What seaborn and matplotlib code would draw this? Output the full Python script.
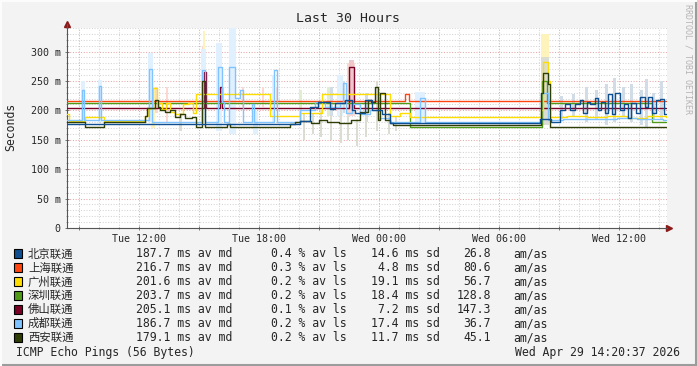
import numpy as np
import pandas as pd
import matplotlib
matplotlib.use("Agg")
import matplotlib.pyplot as plt
import seaborn as sns
from matplotlib.patches import Rectangle
from matplotlib.lines import Line2D

# window starts Tue 08:24, times below are hours into the 30h window
START = 8.4

hosts = ['北京联通', '上海联通', '广州联通', '深圳联通', '佛山联通', '成都联通', '西安联通']
colors = ['#0f4f8f', '#ff4510', '#ffdd00', '#4f9a16', '#7a0025', '#80c4ff', '#2f3d06']
smoke_colors = ['#d2dce6', '#fbd8d0', '#fff3bc', '#e0eed0', '#efc6cc', '#e0f0ff', '#dcddd2']

# median rtt (ms), step data
bj_t = [0, 11.65, 12.15, 12.55, 13.15, 13.4, 13.9, 14.25, 14.4, 14.9, 15.25, 15.75, 16.15, 23.65, 24.2,
        24.65, 24.9, 25.15, 25.4, 25.65, 25.8, 26.0, 26.15, 26.4, 26.55, 26.7, 26.9, 27.05, 27.25, 27.4,
        27.65, 27.85, 28.05, 28.2, 28.45, 28.65, 28.9, 29.05, 29.25, 29.45, 29.65, 29.85, 29.95]
bj_v = [177, 182, 206, 215, 203, 212, 218, 200, 196, 218, 201, 193, 178, 185, 180,
        201, 210, 201, 210, 218, 196, 215, 210, 221, 201, 215, 196, 227, 193, 230,
        201, 210, 187, 213, 196, 223, 206, 223, 196, 218, 220, 193, 193]

sh_t = [0, 16.9, 17.1, 29.95]
sh_v = [216.5, 227, 216.5, 216.5]

gz_t = [0, 0.1, 0.9, 1.85, 3.9, 4.05, 4.3, 4.5, 4.75, 4.95, 5.15, 5.4, 5.8, 6.05, 6.3, 6.45,
        10.15, 11.65, 12.75, 16.15, 16.65, 17.15, 23.7, 23.8, 24.05, 24.15, 25.0, 26.0, 27.0, 28.0, 29.0, 29.95]
gz_v = [193, 182, 189, 182, 190, 203, 238, 213, 203, 213, 198, 193, 210, 213, 196, 228,
        191, 196, 228, 191, 195, 189, 200, 283, 250, 189, 191, 188, 190, 187, 190, 188]

sz_t = [0, 17.15, 23.75, 24.0, 29.25, 29.95]
sz_v = [212, 172, 250, 213, 180, 180]

fs_t = [0, 6.85, 6.95, 7.65, 7.75, 14.1, 14.35, 29.95]
fs_v = [204.5, 266, 204.5, 240, 204.5, 273, 204.5, 204.5]

cd_t = [0, 0.75, 0.85, 1.6, 1.7, 4.1, 4.25, 6.75, 6.9, 7.55, 7.75, 7.85, 8.1, 8.4, 8.65, 8.8,
        9.25, 9.35, 10.35, 10.5, 11.65, 12.4, 12.9, 13.65, 13.8, 13.95, 14.25, 14.65, 15.15, 15.55,
        16.15, 17.65, 17.9, 23.7, 24.05, 24.8, 26.0, 27.5, 28.5, 29.8, 29.95]
cd_v = [183, 235, 183, 242, 183, 271, 181, 269, 181, 274, 215, 181, 274, 221, 235, 181,
        211, 181, 269, 181, 201, 215, 206, 213, 247, 196, 210, 193, 201, 187,
        181, 221, 181, 230, 183, 186, 185, 187, 185, 183, 183]

xa_t = [0, 0.9, 1.85, 3.9, 4.0, 4.4, 4.55, 4.65, 4.9, 5.15, 5.4, 5.65, 5.9, 6.25, 6.45, 6.75, 6.9,
        8.0, 8.15, 11.15, 11.4, 11.65, 12.2, 12.6, 13.0, 13.6, 14.2, 14.65, 15.05, 15.2, 15.4, 15.55,
        15.65, 15.9, 16.15, 16.3, 23.7, 23.8, 24.05, 24.15, 29.95]
xa_v = [180, 171, 180, 190, 204, 218, 206, 201, 198, 201, 189, 193, 187, 189, 172, 250, 172,
        177, 172, 176, 180, 182, 178, 184, 180, 178, 184, 198, 218, 215, 240, 184,
        230, 184, 178, 175, 230, 264, 245, 171, 171]

# smoke: (start, end, low, high)
bj_smoke = [(13.15, 13.3, 190, 240), (13.75, 13.9, 195, 250), (14.9, 15.05, 180, 230),
            (24.65, 24.8, 185, 225), (25.25, 25.4, 190, 228), (25.9, 26.05, 180, 240), (26.4, 26.55, 185, 235),
            (26.9, 27.05, 175, 245), (27.3, 27.45, 180, 255), (27.75, 27.9, 190, 240), (28.15, 28.3, 180, 245),
            (28.65, 28.8, 175, 235), (28.9, 29.05, 170, 253), (29.25, 29.4, 185, 230), (29.65, 29.8, 185, 250)]
sh_smoke = [(4.4, 4.55, 195, 240), (4.95, 5.05, 180, 240), (6.75, 6.9, 200, 309), (7.5, 7.65, 205, 286),
            (8.75, 8.85, 205, 240), (9.75, 9.85, 205, 240), (10.45, 10.55, 205, 240), (14.0, 14.4, 190, 280)]
gz_smoke = [(4.2, 4.4, 170, 240), (6.8, 6.9, 180, 335), (23.7, 24.1, 190, 330)]
sz_smoke = [(11.6, 11.75, 175, 235), (13.0, 13.15, 190, 240)]
fs_smoke = [(14.1, 14.35, 200, 285)]
cd_smoke = [(0.7, 0.9, 180, 250), (1.55, 1.75, 180, 252), (4.05, 4.3, 180, 298), (6.7, 6.95, 180, 305),
            (7.45, 7.75, 165, 315), (8.1, 8.45, 160, 343), (9.3, 9.55, 160, 199), (10.25, 10.4, 180, 260),
            (13.5, 13.8, 190, 260), (17.4, 17.9, 178, 232), (23.7, 24.1, 180, 250)]
xa_smoke = [(5.6, 5.75, 165, 195), (11.8, 11.9, 150, 195), (12.25, 12.35, 160, 195), (12.65, 12.75, 155, 200),
            (13.15, 13.25, 150, 190), (13.65, 13.75, 145, 200), (14.0, 14.1, 150, 190), (14.45, 14.55, 140, 185),
            (14.9, 15.0, 155, 195), (15.45, 15.55, 165, 250), (16.05, 16.15, 160, 195), (16.4, 16.5, 165, 190),
            (23.7, 24.1, 175, 290)]

# legend stats
med = [187.7, 216.7, 201.6, 203.7, 205.1, 186.7, 179.1]
loss = [0.4, 0.3, 0.2, 0.2, 0.1, 0.2, 0.2]
sdev = [14.6, 4.8, 19.1, 18.4, 7.2, 17.4, 11.7]
amas = [26.8, 80.6, 56.7, 128.8, 147.3, 36.7, 45.1]

series = [(bj_t, bj_v), (sh_t, sh_v), (gz_t, gz_v), (sz_t, sz_v), (fs_t, fs_v), (cd_t, cd_v), (xa_t, xa_v)]
smokes = [bj_smoke, sh_smoke, gz_smoke, sz_smoke, fs_smoke, cd_smoke, xa_smoke]

frames = []
for name, (t, v) in zip(hosts, series):
    frames.append(pd.DataFrame({'t': np.array(t) + START, 'ms': v, 'host': name}))
df = pd.concat(frames, ignore_index=True)

sns.set_style("white")
plt.rcParams['font.family'] = ['DejaVu Sans Mono', 'Noto Sans CJK SC']

W, H = 697, 366
fig = plt.figure(figsize=(W / 100, H / 100), dpi=100, facecolor='#f3f3f3')
ax = fig.add_axes([67 / W, 138 / H, 600 / W, 200 / H])
ax.set_facecolor('white')

# smoke
for sm, c in zip(smokes, smoke_colors):
    for s, e, lo, hi in sm:
        ax.fill_between([START + s, START + e], lo, hi, color=c, lw=0, zorder=1.5)

draw_order = ['上海联通', '佛山联通', '深圳联通', '广州联通', '成都联通', '西安联通', '北京联通']
sns.lineplot(data=df, x='t', y='ms', hue='host', hue_order=draw_order,
             palette=dict(zip(hosts, colors)), drawstyle='steps-post', lw=1.0,
             estimator=None, sort=False, legend=False, ax=ax, zorder=3)

ax.set_xlim(START, START + 30)
ax.set_ylim(0, 340)
ax.set_xlabel('')
ax.set_ylabel('')

xt = np.arange(9, 39, 3)
day = {0: 'Tue', 1: 'Wed'}
ax.set_xticks(xt)
ax.set_xticklabels(['%s %02d:00' % (day[int(h // 24)], h % 24) if h % 6 == 0 else '' for h in xt])
ax.set_xticks(np.arange(9, 39, 1), minor=True)
ax.set_yticks(np.arange(0, 301, 50))
ax.set_yticklabels(['0'] + ['%d m' % v for v in range(50, 301, 50)])
ax.set_yticks(np.arange(0, 341, 10), minor=True)

ax.grid(which='minor', color='#d4d4d4', linestyle=(0, (1, 1.6)), lw=0.75)
ax.grid(which='major', color='#e8a8a8', linestyle=(0, (1, 1.6)), lw=0.75)
ax.set_axisbelow(True)

for side in ['top', 'right']:
    ax.spines[side].set_visible(False)
for side in ['left', 'bottom']:
    ax.spines[side].set_color('#555555')
    ax.spines[side].set_linewidth(0.8)
ax.tick_params(which='major', direction='inout', length=3, width=0.7, color='#777777',
               labelsize=7.2, pad=3)
ax.tick_params(which='minor', direction='inout', length=2, width=0.6, color='#999999')
ax.tick_params(axis='x', which='both', bottom=True)
ax.tick_params(axis='y', which='both', left=True)

# arrows
ax.plot([0], [1.022], marker='^', ms=4, color='#8b1a1a', transform=ax.transAxes, clip_on=False)
ax.plot([1.004], [0], marker='>', ms=4, color='#8b1a1a', transform=ax.transAxes, clip_on=False)
ax.add_line(Line2D([0, 0], [1, 1.02], transform=ax.transAxes, color='#555555', lw=0.8, clip_on=False))

def fx(x):
    return x / W

def fy(y):
    return 1 - y / H

fig.text(0.5, fy(19), 'Last 30 Hours', ha='center', va='center', fontsize=9.5)
fig.text(fx(11), fy(127), 'Seconds', rotation=90, ha='center', va='center', fontsize=8.3)
fig.text(fx(688), fy(4), 'RRDTOOL / TOBI OETIKER', rotation=270, ha='center', va='top',
         fontsize=6, color='#b4b4b4')

# legend rows
for i, name in enumerate(hosts):
    y = 253.8 + 13.97 * i
    fig.patches.append(Rectangle((fx(14), fy(y + 4.5)), 8 / W, 9 / H, transform=fig.transFigure,
                                 facecolor=colors[i], edgecolor='black', lw=0.8))
    fig.text(fx(28), fy(y), name, ha='left', va='center', fontsize=8.2,
             family=['Noto Sans CJK SC', 'DejaVu Sans'])
    fig.text(fx(136), fy(y), '%5.1f ms av md' % med[i], ha='left', va='center', fontsize=8.3)
    fig.text(fx(271), fy(y), '%.1f %% av ls' % loss[i], ha='left', va='center', fontsize=8.3)
    fig.text(fx(440), fy(y), '%.1f ms sd' % sdev[i], ha='right', va='center', fontsize=8.3)
    fig.text(fx(491), fy(y), '%.1f' % amas[i], ha='right', va='center', fontsize=8.3)
    fig.text(fx(513), fy(y), 'am/as', ha='left', va='center', fontsize=8.3)

fig.text(fx(16), fy(352.5), 'ICMP Echo Pings (56 Bytes)', ha='left', va='center', fontsize=8.3)
fig.text(fx(680), fy(352.5), 'Wed Apr 29 14:20:37 2026', ha='right', va='center', fontsize=8.3)

# canvas 3d border
fig.add_artist(Line2D([0, 1], [fy(365), fy(365)], transform=fig.transFigure, color='#9c9c9c', lw=1.5))
fig.add_artist(Line2D([fx(696), fx(696)], [0, 1], transform=fig.transFigure, color='#9c9c9c', lw=1.5))
fig.add_artist(Line2D([0, 1], [fy(0.5), fy(0.5)], transform=fig.transFigure, color='#fcfcfc', lw=1.5))
fig.add_artist(Line2D([fx(0.5), fx(0.5)], [0, 1], transform=fig.transFigure, color='#fcfcfc', lw=1.5))

fig.savefig('out.png', dpi=100, facecolor=fig.get_facecolor())
